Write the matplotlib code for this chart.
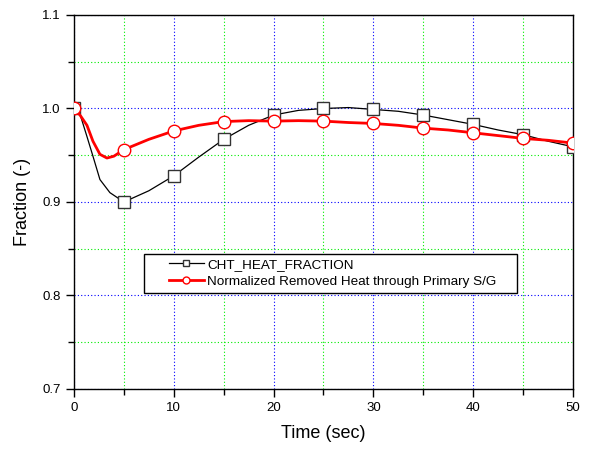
import matplotlib
matplotlib.use('Agg')
import matplotlib.pyplot as plt
from matplotlib.ticker import MultipleLocator
from matplotlib.patches import Rectangle

plt.rcParams['font.family'] = ['Liberation Sans', 'DejaVu Sans']

# CHT_HEAT_FRACTION (black, squares every 5 s)
t_cht = [0, 0.6, 1.3, 1.9, 2.6, 3.6, 5, 7.5, 10, 12.5, 15, 17.5, 20, 22.5,
         25, 27.5, 30, 32.5, 35, 37.5, 40, 42.5, 45, 47.5, 50]
cht = [1.000, 0.994, 0.970, 0.949, 0.924, 0.910, 0.900, 0.912, 0.928, 0.948,
       0.967, 0.982, 0.993, 0.998, 1.000, 1.001, 0.999, 0.997, 0.993, 0.988,
       0.983, 0.977, 0.972, 0.965, 0.959]

# Normalized removed heat through primary S/G (red, circles every 5 s)
t_sg = [0, 0.6, 1.3, 1.9, 2.6, 3.3, 4.0, 5, 7.5, 10, 12.5, 15, 17.5, 20,
        22.5, 25, 27.5, 30, 32.5, 35, 37.5, 40, 42.5, 45, 47.5, 50]
sg = [1.000, 0.993, 0.982, 0.965, 0.951, 0.947, 0.949, 0.956, 0.967, 0.976,
      0.982, 0.986, 0.987, 0.9865, 0.987, 0.9865, 0.985, 0.984, 0.982, 0.979,
      0.977, 0.974, 0.971, 0.968, 0.966, 0.963]

mark_cht = [i for i, t in enumerate(t_cht) if t % 5 == 0]
mark_sg = [i for i, t in enumerate(t_sg) if t % 5 == 0]

fig = plt.figure(figsize=(5.9, 4.53), dpi=100)
ax = fig.add_axes([0.1254, 0.1413, 0.8458, 0.8256])

ax.plot(t_cht, cht, '-s', color='black', lw=0.9, markevery=mark_cht,
        markersize=8, markerfacecolor='white', markeredgecolor='#333333',
        markeredgewidth=1.0, label='CHT_HEAT_FRACTION', zorder=3)
ax.plot(t_sg, sg, '-o', color='red', lw=2.0, markevery=mark_sg,
        markersize=9, markerfacecolor='white', markeredgecolor='red',
        markeredgewidth=1.0, label='Normalized Removed Heat through Primary S/G',
        zorder=4)

ax.set_xlim(0, 50)
ax.set_ylim(0.7, 1.1)
ax.xaxis.set_major_locator(MultipleLocator(10))
ax.xaxis.set_minor_locator(MultipleLocator(5))
ax.yaxis.set_major_locator(MultipleLocator(0.1))
ax.yaxis.set_minor_locator(MultipleLocator(0.05))
ax.set_yticklabels(['%.1f' % v for v in ax.get_yticks()])

ax.grid(True, which='major', color='blue', linestyle=(0, (1, 2)), lw=0.8)
ax.grid(True, which='minor', color='#00ee00', linestyle=(0, (1, 2)), lw=0.8)
ax.set_axisbelow(True)

ax.tick_params(which='both', direction='out', top=False, right=False,
               labelsize=9.5, colors='black')
ax.tick_params(which='major', length=6, width=1)
ax.tick_params(which='minor', length=4, width=1)
for s in ax.spines.values():
    s.set_linewidth(1.0)

ax.set_xlabel('Time (sec)', fontsize=13, labelpad=8)
ax.set_ylabel('Fraction (-)', fontsize=13, labelpad=8)

# legend box drawn as a plain rectangle, Origin style
ax.add_patch(Rectangle((0.1403, 0.2567), 0.7475, 0.1043, transform=ax.transAxes,
                       facecolor='white', edgecolor='black', lw=1.0, zorder=5))
leg = ax.legend(loc='center left', bbox_to_anchor=(0.190, 0.310), fontsize=9.7,
                frameon=False, handlelength=2.6, handletextpad=0.25,
                borderpad=0, labelspacing=0.3, borderaxespad=0)
leg.set_zorder(6)
for h in leg.legend_handles:
    h.set_markersize(5)

fig.savefig('out.png', dpi=100)
